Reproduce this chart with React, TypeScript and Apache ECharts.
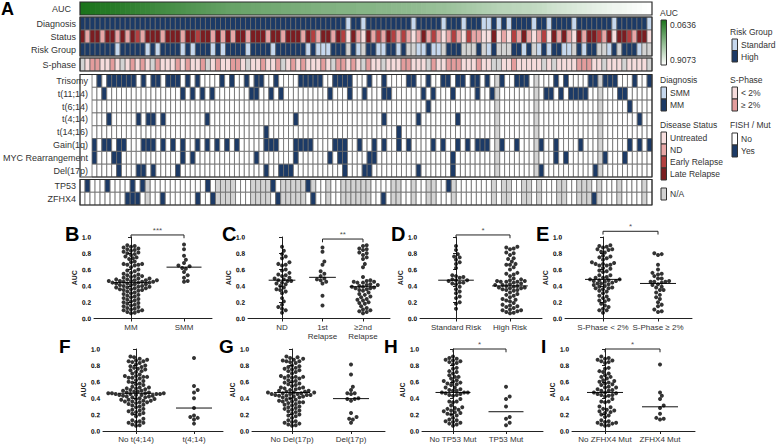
import React, { useEffect, useRef } from "react";
import * as echarts from "echarts";

const FONT = "'Liberation Sans', Arial, Helvetica, sans-serif";
const NCOL = 114;

// AUC of each sample, in heatmap column order (sorted ascending)
const aucSorted = [
  0.0636, 0.07, 0.08, 0.09, 0.1, 0.1, 0.11, 0.12, 0.13, 0.14, 0.15, 0.16,
  0.17, 0.18, 0.19, 0.2, 0.21, 0.22, 0.23, 0.24, 0.25, 0.26, 0.27, 0.28,
  0.29, 0.3, 0.31, 0.32, 0.33, 0.34, 0.35, 0.35, 0.36, 0.36, 0.37, 0.37, 0.38, 0.38,
  0.39, 0.39, 0.4, 0.4, 0.41, 0.41, 0.42, 0.42, 0.43, 0.43, 0.44, 0.44, 0.44, 0.45, 0.45, 0.45, 0.45,
  0.46, 0.46, 0.46, 0.46, 0.47, 0.47, 0.47, 0.48, 0.48, 0.49, 0.49, 0.5, 0.5,
  0.51, 0.52, 0.52, 0.53, 0.53, 0.54, 0.55, 0.56, 0.57, 0.58, 0.59, 0.6, 0.61, 0.62,
  0.63, 0.64, 0.65, 0.65, 0.66, 0.66, 0.67, 0.67, 0.68, 0.69, 0.7, 0.72, 0.73, 0.74,
  0.75, 0.76, 0.77, 0.78, 0.79, 0.8, 0.81, 0.82, 0.83, 0.84, 0.85, 0.85, 0.86, 0.87, 0.88, 0.89, 0.9, 0.9073,
];

// Columns (0-based) carrying each attribute
const smmCols = [53, 56, 66, 72, 76, 80, 81, 83, 85, 90, 93, 98, 106, 113];
const statusNDCols = [1, 4, 7, 9, 12, 16, 20, 26, 28, 30, 33, 37, 40, 44, 47, 50, 55, 58, 60, 63, 65, 67, 69, 71, 73, 75, 78, 79, 84, 87, 89, 91, 95, 97, 100, 104, 110];
const statusEarlyCols = [11, 23, 46, 52, 59, 62, 64, 70, 74, 77, 86, 92, 103, 109];
const riskStandardCols = [7, 13, 15, 20, 22, 26, 28, 33, 38, 45, 47, 48, 49, 55, 59, 60, 63, 67, 68, 70, 71, 81, 88, 91, 93, 96, 97, 100, 105, 111];
const riskNACols = [53, 56, 65, 66, 72, 76, 77, 78, 80, 83, 84, 85, 90, 98, 103, 104, 107, 112, 113];
const sphaseHighCols = [2, 3, 6, 10, 12, 15, 19, 21, 24, 27, 30, 31, 36, 39, 42, 44, 48, 51, 52, 54, 57, 64, 65, 70, 73, 74, 75, 79, 86, 99, 100, 101];
const sphaseNACols = [0, 8, 14, 25, 33, 40, 50, 56, 60, 69, 82, 83, 92, 94, 104, 108, 113];
const fishNACols = [82, 90, 103];
const trisomyCols = [1, 3, 4, 5, 6, 7, 8, 10, 12, 13, 15, 16, 17, 19, 21, 26, 28, 31, 33, 34, 37, 42, 43, 44, 45, 46, 49, 50, 51, 52, 56, 59, 64, 65, 68, 71, 72, 74, 75, 77, 78, 80, 83, 86, 87, 88, 94, 96, 101, 102, 104, 105, 106, 110, 113];
const t1114Cols = [2, 18, 20, 22, 24, 32, 33, 36, 38, 48, 52, 55, 59, 60, 67, 69, 73, 78, 81, 92, 93, 95, 97, 98, 99, 100, 107, 108];
const t614Cols = [68, 109];
const t414Cols = [3, 9, 11, 12, 14, 23, 41, 59, 66, 74, 111];
const t1416Cols = [35, 62];
const gain1qCols = [0, 2, 3, 5, 6, 10, 11, 12, 14, 16, 18, 21, 23, 25, 27, 29, 35, 36, 37, 41, 42, 43, 44, 49, 50, 51, 54, 57, 59, 62, 64, 69, 71, 74, 76, 78, 79, 80, 83, 86, 91, 94, 99, 109, 111, 113];
const mycCols = [0, 4, 5, 18, 20, 33, 41, 48, 50, 51, 56, 57, 73, 94, 96, 104, 108];
const del17pCols = [5, 9, 10, 12, 17, 35, 38, 39, 40, 51, 55, 56, 66, 73, 91, 102];
const tp53Cols = [1, 5, 10, 12, 25, 38, 45, 73];
const tp53NACols = [13, 27, 28, 29, 30, 34, 35, 36, 37, 40, 41, 42, 43, 44, 46, 49, 52, 53, 54, 55, 56, 57, 62, 63, 66, 69, 70, 74, 82, 84, 85, 88, 89, 91, 95, 96, 99, 100, 101, 103, 107, 112];
const zfhx4Cols = [9, 10, 11, 16, 23, 26, 39, 46, 60, 102];
const zfhx4NACols = [13, 27, 28, 29, 30, 34, 35, 36, 37, 40, 41, 42, 43, 44, 49, 52, 53, 54, 55, 56, 57, 62, 63, 66, 69, 70, 74, 82, 84, 85, 88, 89, 91, 95, 96, 99, 100, 101, 103, 107, 112];

const clinRows = ["Diagnosis", "Status", "Risk Group"];
const fishRows = ["Trisomy", "t(11;14)", "t(6;14)", "t(4;14)", "t(14;16)", "Gain(1q)", "MYC Rearrangement", "Del(17p)"];
const mutRows = ["TP53", "ZFHX4"];
const yTickLabels = ["0.0", "0.2", "0.4", "0.6", "0.8", "1.0"];

// palette codes
const PAL = ["#ffffff", "#1c3a66", "#c6d8ee", "#d3d3d3", "#f7dfdf", "#e8a6a6", "#b33f40", "#7b1d21", "#f6dcdc", "#e39c9c"];

function fillRow(def: number, lists: [number[], number][]) {
  const r = new Array(NCOL).fill(def);
  lists.forEach(([cols, code]) => cols.forEach((c) => (r[c] = code)));
  return r;
}
const diagRow = fillRow(1, [[smmCols, 2]]);
const statusRow = fillRow(7, [[statusNDCols, 5], [statusEarlyCols, 6], [smmCols, 4]]);
const riskRow = fillRow(1, [[riskStandardCols, 2], [riskNACols, 3]]);
const sphaseRow = fillRow(8, [[sphaseHighCols, 9], [sphaseNACols, 3]]);
const bin = (pos: number[], na: number[]) => fillRow(0, [[pos, 1], [na, 3]]);
const fishData = [trisomyCols, t1114Cols, t614Cols, t414Cols, t1416Cols, gain1qCols, mycCols, del17pCols].map((p) => bin(p, fishNACols));
const mutData = [bin(tp53Cols, tp53NACols), bin(zfhx4Cols, zfhx4NACols)];

const pick = (row: number[], code: number) => aucSorted.filter((_, i) => row[i] === code);

const HX = 80;
const HW = 572;
const heatBlocks = [
  { rows: ["AUC"], top: 2, height: 13, auc: true, margin: 9, data: [] as number[][] },
  { rows: clinRows, top: 17, height: 39, data: [diagRow, statusRow, riskRow] },
  { rows: ["S-phase"], top: 58, height: 13, data: [sphaseRow] },
  { rows: fishRows, top: 74.5, height: 102.5, data: fishData },
  { rows: mutRows, top: 179.5, height: 25.5, data: mutData },
];

const panels = [
  { letter: "B", lx: 65, ly: 224, left: 94, top: 237, width: 118, height: 81.5, xMin: -0.698, xMax: 1.528,
    labels: ["MM", "SMM"], groups: [pick(diagRow, 1), pick(diagRow, 2)], sig: { text: "***", a: 0, b: 1, y: 1.025 } },
  { letter: "C", lx: 222, ly: 224, left: 248, top: 237, width: 142, height: 81.5, xMin: -0.84, xMax: 2.667,
    labels: ["ND", "1st\nRelapse", "≥2nd\nRelapse"], groups: [pick(statusRow, 5), pick(statusRow, 6), pick(statusRow, 7)], sig: { text: "**", a: 1, b: 2, y: 0.975 } },
  { letter: "D", lx: 391, ly: 224, left: 420, top: 237, width: 122, height: 81.5, xMin: -0.667, xMax: 1.593,
    labels: ["Standard Risk", "High Risk"], groups: [pick(riskRow, 2), pick(riskRow, 1)], sig: { text: "*", a: 0, b: 1, y: 1.025 } },
  { letter: "E", lx: 536, ly: 224, left: 565, top: 237, width: 127, height: 81.5, xMin: -0.691, xMax: 1.618,
    labels: ["S-Phase < 2%", "S-Phase ≥ 2%"], groups: [pick(sphaseRow, 8), pick(sphaseRow, 9)], sig: { text: "*", a: 0, b: 1, y: 1.07 } },
  { letter: "F", lx: 59, ly: 337, left: 103, top: 349, width: 120, height: 82, xMin: -0.569, xMax: 1.5,
    labels: ["No t(4;14)", "t(4;14)"], groups: [pick(fishData[3], 0), pick(fishData[3], 1)], sig: null },
  { letter: "G", lx: 219, ly: 337, left: 252, top: 349, width: 133, height: 82, xMin: -0.678, xMax: 1.576,
    labels: ["No Del(17p)", "Del(17p)"], groups: [pick(fishData[7], 0), pick(fishData[7], 1)], sig: null },
  { letter: "H", lx: 384, ly: 337, left: 422, top: 349, width: 121, height: 82, xMin: -0.585, xMax: 1.698,
    labels: ["No TP53 Mut", "TP53 Mut"], groups: [pick(mutData[0], 0), pick(mutData[0], 1)], sig: { text: "*", a: 0, b: 1, y: 1.0 } },
  { letter: "I", lx: 541, ly: 337, left: 572, top: 349, width: 123, height: 82, xMin: -0.6, xMax: 1.636,
    labels: ["No ZFHX4 Mut", "ZFHX4 Mut"], groups: [pick(mutData[1], 0), pick(mutData[1], 1)], sig: { text: "*", a: 0, b: 1, y: 1.0 } },
];

function swarmOffsets(vals: number[], pxX: number, pxY: number, d: number) {
  const order = vals.map((_, i) => i).sort((a, b) => vals[a] - vals[b]);
  const placed: [number, number][] = [];
  const off = new Array(vals.length).fill(0);
  const step = d * 0.5;
  for (const i of order) {
    const y = vals[i] * pxY;
    for (let k = 0; k < 600; k++) {
      const m = Math.ceil(k / 2) * (k % 2 ? 1 : -1);
      const x = m * step;
      let ok = true;
      for (const [px, py] of placed) {
        if ((px - x) * (px - x) + (py - y) * (py - y) < d * d - 0.01) { ok = false; break; }
      }
      if (ok) { placed.push([x, y]); off[i] = x / pxX; break; }
    }
  }
  return off;
}

function median(v: number[]) {
  const s = [...v].sort((a, b) => a - b);
  const n = s.length;
  if (!n) return 0;
  return n % 2 ? s[(n - 1) / 2] : (s[n / 2 - 1] + s[n / 2]) / 2;
}

function buildOption() {
  const grids: any[] = [];
  const xAxes: any[] = [];
  const yAxes: any[] = [];
  const series: any[] = [];
  const graphics: any[] = [];
  const colIds = Array.from({ length: NCOL }, (_, i) => String(i));
  const aMin = Math.min(...aucSorted);
  const aMax = Math.max(...aucSorted);

  heatBlocks.forEach((b, gi) => {
    grids.push({ left: HX, top: b.top, width: HW, height: b.height });
    xAxes.push({ type: "category", gridIndex: gi, data: colIds, show: false });
    yAxes.push({
      type: "category", gridIndex: gi, data: b.rows, inverse: true,
      axisLine: { show: false }, axisTick: { show: false },
      axisLabel: { fontSize: 9, color: "#333", margin: b.margin ?? 4, fontFamily: FONT },
    });
    let data: number[][] = [];
    if (b.auc) {
      data = aucSorted.map((v, c) => [c, 0, v]);
    } else {
      b.data.forEach((row, r) => row.forEach((code: number, c: number) => data.push([c, r, code])));
    }
    series.push({
      type: "custom", xAxisIndex: gi, yAxisIndex: gi, data, silent: true,
      renderItem: (params: any, api: any) => {
        const p = api.coord([api.value(0), api.value(1)]);
        const s = api.size([1, 1]);
        if (b.auc) {
          const t = (api.value(2) - aMin) / (aMax - aMin);
          return {
            type: "rect",
            shape: { x: p[0] - s[0] / 2, y: p[1] - s[1] / 2, width: s[0] + 0.7, height: s[1] },
            style: { fill: echarts.color.lerp(t, ["#1b731b", "#ffffff"]) },
          };
        }
        return {
          type: "rect",
          shape: { x: p[0] - s[0] / 2, y: p[1] - s[1] / 2, width: s[0], height: s[1] },
          style: { fill: PAL[api.value(2)], stroke: "#6a6a6a", lineWidth: 0.8 },
        };
      },
    });
    graphics.push({
      type: "rect", z: 100, silent: true,
      shape: { x: HX, y: b.top, width: HW, height: b.height },
      style: { fill: "none", stroke: "#2b2b2b", lineWidth: 1.2 },
    });
  });

  panels.forEach((p, k) => {
    const gi = heatBlocks.length + k;
    const unit = p.width / (p.xMax - p.xMin);
    const idxs = p.labels.map((_, i) => i);
    grids.push({ left: p.left, top: p.top, width: p.width, height: p.height });
    xAxes.push({
      type: "value", gridIndex: gi, min: p.xMin, max: p.xMax, splitLine: { show: false },
      axisLine: { show: true, onZero: false, lineStyle: { color: "#222", width: 1 } },
      axisTick: { show: true, customValues: idxs, length: 3, lineStyle: { color: "#222" } },
      axisLabel: {
        show: true, customValues: idxs, formatter: (v: number) => p.labels[Math.round(v)] ?? "",
        fontSize: 8, color: "#333", margin: 4, lineHeight: 9, fontFamily: FONT,
      },
    });
    yAxes.push({
      type: "value", gridIndex: gi, min: 0, max: 1, interval: 0.2, splitLine: { show: false },
      axisLine: { show: true, lineStyle: { color: "#222", width: 1 } },
      axisTick: { show: true, length: 3, lineStyle: { color: "#222" } },
      axisLabel: {
        margin: 3, rotate: 1,
        fontSize: 6.5, fontWeight: "bold", color: "#000", fontFamily: FONT,
        formatter: (v: number) => yTickLabels[Math.round(v * 5)] ?? v.toFixed(1),
      },
      name: "AUC", nameLocation: "middle", nameGap: 15, nameRotate: 90,
      nameTextStyle: { fontSize: 7, fontWeight: "bold", color: "#222", fontFamily: FONT },
    });
    const pts: number[][] = [];
    p.groups.forEach((vals, g) => {
      const off = swarmOffsets(vals, unit, p.height, 3.7);
      vals.forEach((v, i) => pts.push([g + off[i], v]));
      const m = median(vals);
      const hw = Math.min(18, unit * 0.33) / unit;
      series.push({
        type: "line", xAxisIndex: gi, yAxisIndex: gi, data: [[g - hw, m], [g + hw, m]],
        symbol: "none", silent: true, z: 3, lineStyle: { color: "#111", width: 1 },
      });
    });
    series.push({
      type: "scatter", xAxisIndex: gi, yAxisIndex: gi, data: pts, symbol: "circle", symbolSize: 4,
      silent: true, itemStyle: { color: "#000" }, z: 4,
    });
    if (p.sig) {
      const { a, b, y, text } = p.sig;
      const drop = 0.04;
      series.push({
        type: "line", xAxisIndex: gi, yAxisIndex: gi, clip: false, silent: true, symbol: "none",
        data: [[a, y - drop], [a, y], [b, y], [b, y - drop]], lineStyle: { color: "#222", width: 1 },
      });
      series.push({
        type: "scatter", xAxisIndex: gi, yAxisIndex: gi, clip: false, silent: true, symbolSize: 1,
        itemStyle: { color: "rgba(0,0,0,0)" }, data: [[(a + b) / 2, y]],
        label: { show: true, position: "top", distance: 0, formatter: text, fontSize: 8, color: "#222", fontFamily: FONT },
      });
    }
    graphics.push({
      type: "text", x: p.lx, y: p.ly, silent: true,
      style: { text: p.letter, fontSize: k < 4 ? 20 : 19, fontWeight: "bold", fontFamily: FONT, fill: "#000", verticalAlign: "top" },
    });
  });

  // panel A letter
  graphics.push({ type: "text", x: 1, y: 0, style: { text: "A", fontSize: 18, fontWeight: "bold", fontFamily: FONT, fill: "#000", verticalAlign: "top" } });

  // legends
  const txt = (x: number, y: number, text: string) => ({
    type: "text", x, y, silent: true,
    style: { text, fontSize: 8.5, fontFamily: FONT, fill: "#333", verticalAlign: "middle" },
  });
  const sw = (x: number, y: number, h: number, fill: string) => ({
    type: "rect", silent: true, shape: { x, y, width: 5.5, height: h },
    style: { fill, stroke: "#333", lineWidth: 1 },
  });
  graphics.push(txt(660, 13, "AUC"));
  graphics.push({
    type: "rect", silent: true, shape: { x: 661, y: 20, width: 5.5, height: 45 },
    style: {
      fill: { type: "linear", x: 0, y: 0, x2: 0, y2: 1, colorStops: [{ offset: 0, color: "#1b731b" }, { offset: 1, color: "#ffffff" }] },
      stroke: "#333", lineWidth: 1,
    },
  });
  graphics.push(txt(670, 25, aMin.toFixed(4)));
  graphics.push(txt(670, 60, aMax.toFixed(4)));

  graphics.push(txt(730, 32, "Risk Group"));
  graphics.push(sw(732, 39, 11.5, PAL[2]), sw(732, 50.5, 11.5, PAL[1]));
  graphics.push(txt(741, 45, "Standard"), txt(741, 57, "High"));

  graphics.push(txt(660, 80, "Diagnosis"));
  graphics.push(sw(661, 87, 12, PAL[2]), sw(661, 99, 12, PAL[1]));
  graphics.push(txt(670, 93, "SMM"), txt(670, 105, "MM"));

  graphics.push(txt(730, 80, "S-Phase"));
  graphics.push(sw(732, 87, 12, PAL[8]), sw(732, 99, 12, PAL[9]));
  graphics.push(txt(741, 93, "< 2%"), txt(741, 105, "≥ 2%"));

  graphics.push(txt(660, 125, "Disease Status"));
  graphics.push(sw(661, 132, 12, PAL[4]), sw(661, 144, 12, PAL[5]), sw(661, 156, 12, PAL[6]), sw(661, 168, 12, PAL[7]));
  graphics.push(txt(670, 138, "Untreated"), txt(670, 150, "ND"), txt(670, 162, "Early Relapse"), txt(670, 174, "Late Relapse"));

  graphics.push(txt(730, 125, "FISH / Mut"));
  graphics.push(sw(732, 133, 12, PAL[0]), sw(732, 145, 12, PAL[1]));
  graphics.push(txt(741, 139, "No"), txt(741, 151, "Yes"));

  graphics.push(sw(661, 188, 12, PAL[3]));
  graphics.push(txt(670, 194, "N/A"));

  return {
    animation: false,
    backgroundColor: "#ffffff",
    textStyle: { fontFamily: FONT },
    grid: grids,
    xAxis: xAxes,
    yAxis: yAxes,
    series,
    graphic: graphics,
  };
}

export default function App() {
  const ref = useRef<HTMLDivElement>(null);
  useEffect(() => {
    if (!ref.current) return;
    const chart = echarts.init(ref.current, null, { renderer: "svg" });
    chart.setOption(buildOption() as any);
    return () => chart.dispose();
  }, []);
  return (
    <div
      ref={ref}
      style={{ position: "absolute", left: 0, top: 0, width: 776, height: 444, background: "#fff" }}
    />
  );
}
